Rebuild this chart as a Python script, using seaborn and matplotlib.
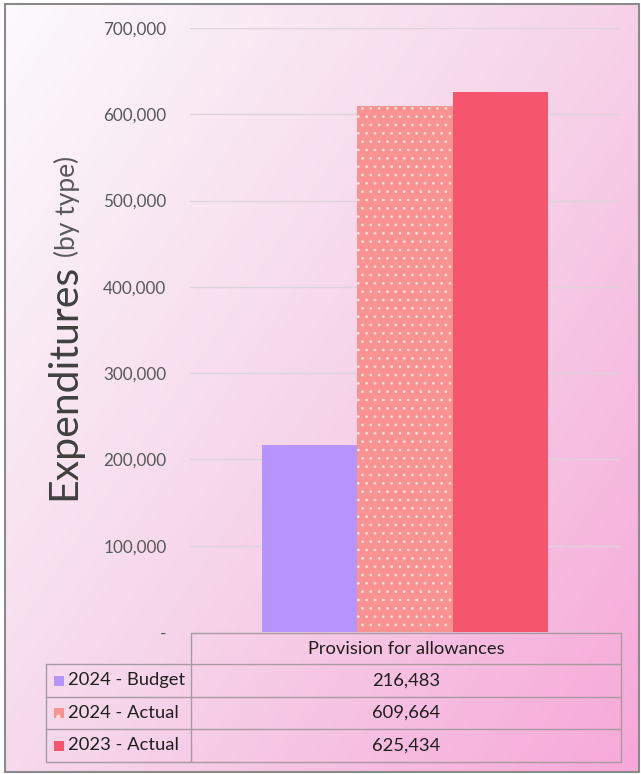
import numpy as np
import pandas as pd
import matplotlib
matplotlib.use("Agg")
import matplotlib.pyplot as plt
import seaborn as sns
from matplotlib.colors import LinearSegmentedColormap
from matplotlib.lines import Line2D
from matplotlib.patches import Rectangle
from matplotlib.ticker import FuncFormatter

# ---- data ----
categories = ["Provision for allowances"]
series = ["2024 - Budget", "2024 - Actual", "2023 - Actual"]
values = [216483, 609664, 625434]
series_colors = ["#b794fb", "#f99391", "#f5566e"]
y_ticks = [0, 100000, 200000, 300000, 400000, 500000, 600000, 700000]
y_title = "Expenditures"
y_subtitle = "(by type)"

W, H, DPI = 641, 774, 100

sns.set_theme(style="white")
plt.rcParams["font.family"] = ["Lato", "DejaVu Sans"]
plt.rcParams["hatch.linewidth"] = 0.7

fig = plt.figure(figsize=(W / DPI, H / DPI), dpi=DPI)
fig.patch.set_facecolor("white")


def fx(x):
    return x / W


def fy(y):
    return 1 - y / H


# ---- gradient background with frame ----
bg = fig.add_axes([0, 0, 1, 1], zorder=-10)
bg.set_xlim(0, W)
bg.set_ylim(H, 0)
bg.axis("off")
gx, gy = np.meshgrid(np.linspace(0, 1, 320), np.linspace(0, 1, 390))
grad = 0.55 * gx + 0.45 * gy
cmap = LinearSegmentedColormap.from_list("bg", ["#fcfafc", "#f6d6ea", "#f7a8d8"])
bg.imshow(grad, cmap=cmap, extent=(5, 639, 772, 4), aspect="auto",
          vmin=0, vmax=1, interpolation="bilinear")
bg.add_patch(Rectangle((5, 4), 634, 768, fill=False, edgecolor="#8a8a8a", lw=1.5))

# ---- bar chart ----
ax = fig.add_axes([fx(190), fy(632), (620 - 190) / W, (632 - 28) / H])
ax.set_facecolor("none")
df = pd.DataFrame({
    "category": categories * len(series),
    "series": series,
    "value": values,
})
sns.barplot(data=df, x="category", y="value", hue="series", hue_order=series,
            palette=series_colors, width=0.667, saturation=1, legend=False,
            linewidth=0, ax=ax, zorder=3)

for p in ax.patches:
    p.set_linewidth(0)
dotted = ax.patches[1]
dotted.set_hatch("..")
dotted.set_edgecolor("#ffe0da")

ax.set_xlim(-0.5, 0.5)
ax.set_ylim(0, 700000)
ax.set_yticks(y_ticks)
ax.yaxis.set_major_formatter(
    FuncFormatter(lambda v, p: "-" if v == 0 else f"{int(v):,}"))
ax.tick_params(axis="y", length=0, pad=17, labelsize=12.3, labelcolor="#595959")
ax.set_xticks([])
ax.set_xlabel("")
ax.set_ylabel("")
ax.grid(axis="y", color="#dcd4da", lw=1)
ax.set_axisbelow(True)
for s in ax.spines.values():
    s.set_visible(False)

# ---- data table under the chart ----
left, mid, right = 46, 191, 621
rows_y = [633, 664, 697, 729, 762]
line_kw = dict(color="#a89aa2", lw=1)


def hline(y, x0, x1):
    fig.add_artist(Line2D([fx(x0), fx(x1)], [fy(y), fy(y)], **line_kw))


def vline(x, y0, y1):
    fig.add_artist(Line2D([fx(x), fx(x)], [fy(y0), fy(y1)], **line_kw))


hline(rows_y[0], mid, right)
for y in rows_y[1:]:
    hline(y, left, right)
vline(left, rows_y[1], rows_y[-1])
vline(mid, rows_y[0], rows_y[-1])
vline(right, rows_y[0], rows_y[-1])

text_kw = dict(fontsize=13.2, color="#1f1f1f")
fig.text(fx((mid + right) / 2), fy((rows_y[0] + rows_y[1]) / 2), categories[0],
         ha="center", va="center", **text_kw)
for i, (name, val, col) in enumerate(zip(series, values, series_colors)):
    yc = (rows_y[i + 1] + rows_y[i + 2]) / 2
    sq = Rectangle((fx(54), fy(yc + 5)), 10 / W, 10 / H, transform=fig.transFigure,
                   facecolor=col, edgecolor="#ffe0da" if i == 1 else col, lw=0,
                   hatch="." if i == 1 else None)
    fig.add_artist(sq)
    fig.text(fx(68), fy(yc), name, ha="left", va="center", **text_kw)
    fig.text(fx((mid + right) / 2), fy(yc), f"{val:,}", ha="center", va="center",
             **text_kw)

# ---- axis title ----
t1 = fig.text(fx(75), fy(500), y_title, rotation=90, rotation_mode="anchor",
              ha="left", va="baseline", fontsize=29.5, color="#404040")
fig.canvas.draw()
bb = t1.get_window_extent()
fig.text(fx(75), (bb.y1 + 7) / H, y_subtitle, rotation=90, rotation_mode="anchor",
         ha="left", va="baseline", fontsize=19, color="#595959")

fig.savefig("out.png", dpi=DPI)
